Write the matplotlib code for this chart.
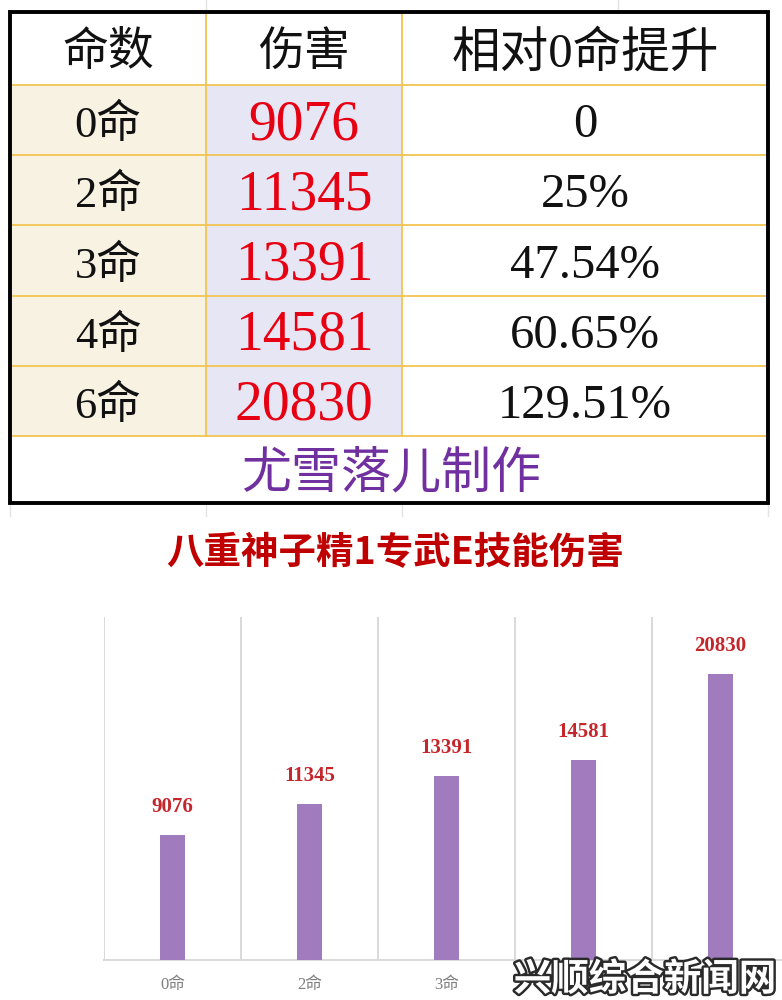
import matplotlib
matplotlib.use('Agg')
import matplotlib.pyplot as plt
from matplotlib.patches import Rectangle
import matplotlib.patheffects as pe
import numpy as np

# ---------------- data ----------------
constellations = ['0命', '2命', '3命', '4命', '6命']
damage = [9076, 11345, 13391, 14581, 20830]
boost = ['0', '25%', '47.54%', '60.65%', '129.51%']
headers = ['命数', '伤害', '相对0命提升']
credit = '尤雪落儿制作'
chart_title = '八重神子精1专武E技能伤害'
watermark = '兴顺综合新闻网'

CJK = 'Noto Sans CJK SC'
SERIF_CJK = ['Liberation Serif', CJK, 'DejaVu Sans']
plt.rcParams['font.family'] = [CJK, 'DejaVu Sans']

fig = plt.figure(figsize=(7.82, 10), dpi=100)
fig.patch.set_facecolor('white')

# ---------------- table (pixel coordinates overlay) ----------------
bg = fig.add_axes([0, 0, 1, 1])
bg.set_xlim(0, 782)
bg.set_ylim(1000, 0)
bg.axis('off')

col_x = [10, 206, 402, 768]
row_y = [12, 85, 155, 225, 296, 366, 436, 503]
cream = '#F8F2E3'
lavender = '#E6E6F4'
gold = '#F2C451'

# faint sheet gridlines outside the table
for x in [10, 206, 402, 768]:
    bg.plot([x, x], [row_y[-1], 516], color='#E3E3E3', lw=1, zorder=0)
for x in [206, 618]:
    bg.plot([x, x], [0, row_y[0]], color='#E3E3E3', lw=1, zorder=0)

# fills
for i in range(len(constellations)):
    y0, y1 = row_y[i + 1], row_y[i + 2]
    bg.add_patch(Rectangle((col_x[0], y0), col_x[1] - col_x[0], y1 - y0,
                           facecolor=cream, edgecolor='none', zorder=1))
    bg.add_patch(Rectangle((col_x[1], y0), col_x[2] - col_x[1], y1 - y0,
                           facecolor=lavender, edgecolor='none', zorder=1))

# gold grid lines
for y in row_y[1:-1]:
    bg.plot([col_x[0], col_x[-1]], [y, y], color=gold, lw=1.3, zorder=2)
for x in col_x[1:-1]:
    bg.plot([x, x], [row_y[0], row_y[-2]], color=gold, lw=1.3, zorder=2)

# thick outer border
bg.add_patch(Rectangle((col_x[0], row_y[0]), col_x[-1] - col_x[0], row_y[-1] - row_y[0],
                       facecolor='none', edgecolor='black', lw=2.8, zorder=3))

cx = [(col_x[j] + col_x[j + 1]) / 2 for j in range(3)]
hy = (row_y[0] + row_y[1]) / 2 + 5
header_sizes = [33, 33, 35]
for j, h in enumerate(headers):
    bg.text(cx[j], hy, h, ha='center', va='center', fontsize=header_sizes[j],
            family=SERIF_CJK, fontweight='light', color='#111111', zorder=4)

for i in range(len(constellations)):
    ry = (row_y[i + 1] + row_y[i + 2]) / 2 + 5
    bg.text(cx[0], ry, constellations[i], ha='center', va='center', fontsize=32,
            family=SERIF_CJK, fontweight='light', color='#111111', zorder=4)
    bg.text(cx[1], ry, str(damage[i]), ha='center', va='center', fontsize=40,
            family=SERIF_CJK, color='#E60012', zorder=4)
    bg.text(cx[2], ry, boost[i], ha='center', va='center', fontsize=35,
            family=SERIF_CJK, fontweight='light', color='#111111', zorder=4)

bg.text((col_x[0] + col_x[-1]) / 2 + 2, (row_y[-2] + row_y[-1]) / 2 + 4, credit,
        ha='center', va='center', fontsize=36, fontweight='light',
        color='#7030A0', zorder=4)

# ---------------- chart ----------------
fig.text(395 / 782, 1 - 553 / 1000, chart_title, ha='center', va='center',
         fontsize=27, fontweight='bold', color='#C00000')

ax = fig.add_axes([104 / 782, 40 / 1000, 685 / 782, 343 / 1000])
x = np.arange(len(constellations))
ax.bar(x, damage, width=0.18, color='#A07CBE', zorder=3)
ax.set_xlim(-0.5, len(constellations) - 0.5)
ax.set_ylim(0, 25000)
ax.set_xticks(x)
ax.set_xticklabels(constellations, family=SERIF_CJK, fontsize=12, color='#7F7F7F')
ax.set_xticks(np.arange(-0.5, len(constellations), 1), minor=True)
ax.tick_params(axis='x', which='both', length=0, pad=12)
ax.set_yticks([])
ax.grid(which='minor', axis='x', color='#D9D9D9', lw=1.4, zorder=0)
for s in ['top', 'right', 'left']:
    ax.spines[s].set_visible(False)
ax.spines['bottom'].set_color('#D9D9D9')
ax.spines['bottom'].set_linewidth(1.4)

for xi, v in zip(x, damage):
    ax.annotate(str(v), (xi, v), xytext=(0, 13), textcoords='offset points',
                ha='center', va='bottom', fontsize=15, fontweight='bold',
                family=['Liberation Serif', 'DejaVu Serif'], color='#C4262B')

# watermark (overlaps the last tick labels, as in the reference)
fig.text(645 / 782, 1 - 979 / 1000, watermark, ha='center', va='center',
         fontsize=27, fontweight='bold', color='white', zorder=10,
         path_effects=[pe.withStroke(linewidth=3.5, foreground='#2a2a2a')])

fig.savefig('out.png', dpi=100, facecolor='white')
